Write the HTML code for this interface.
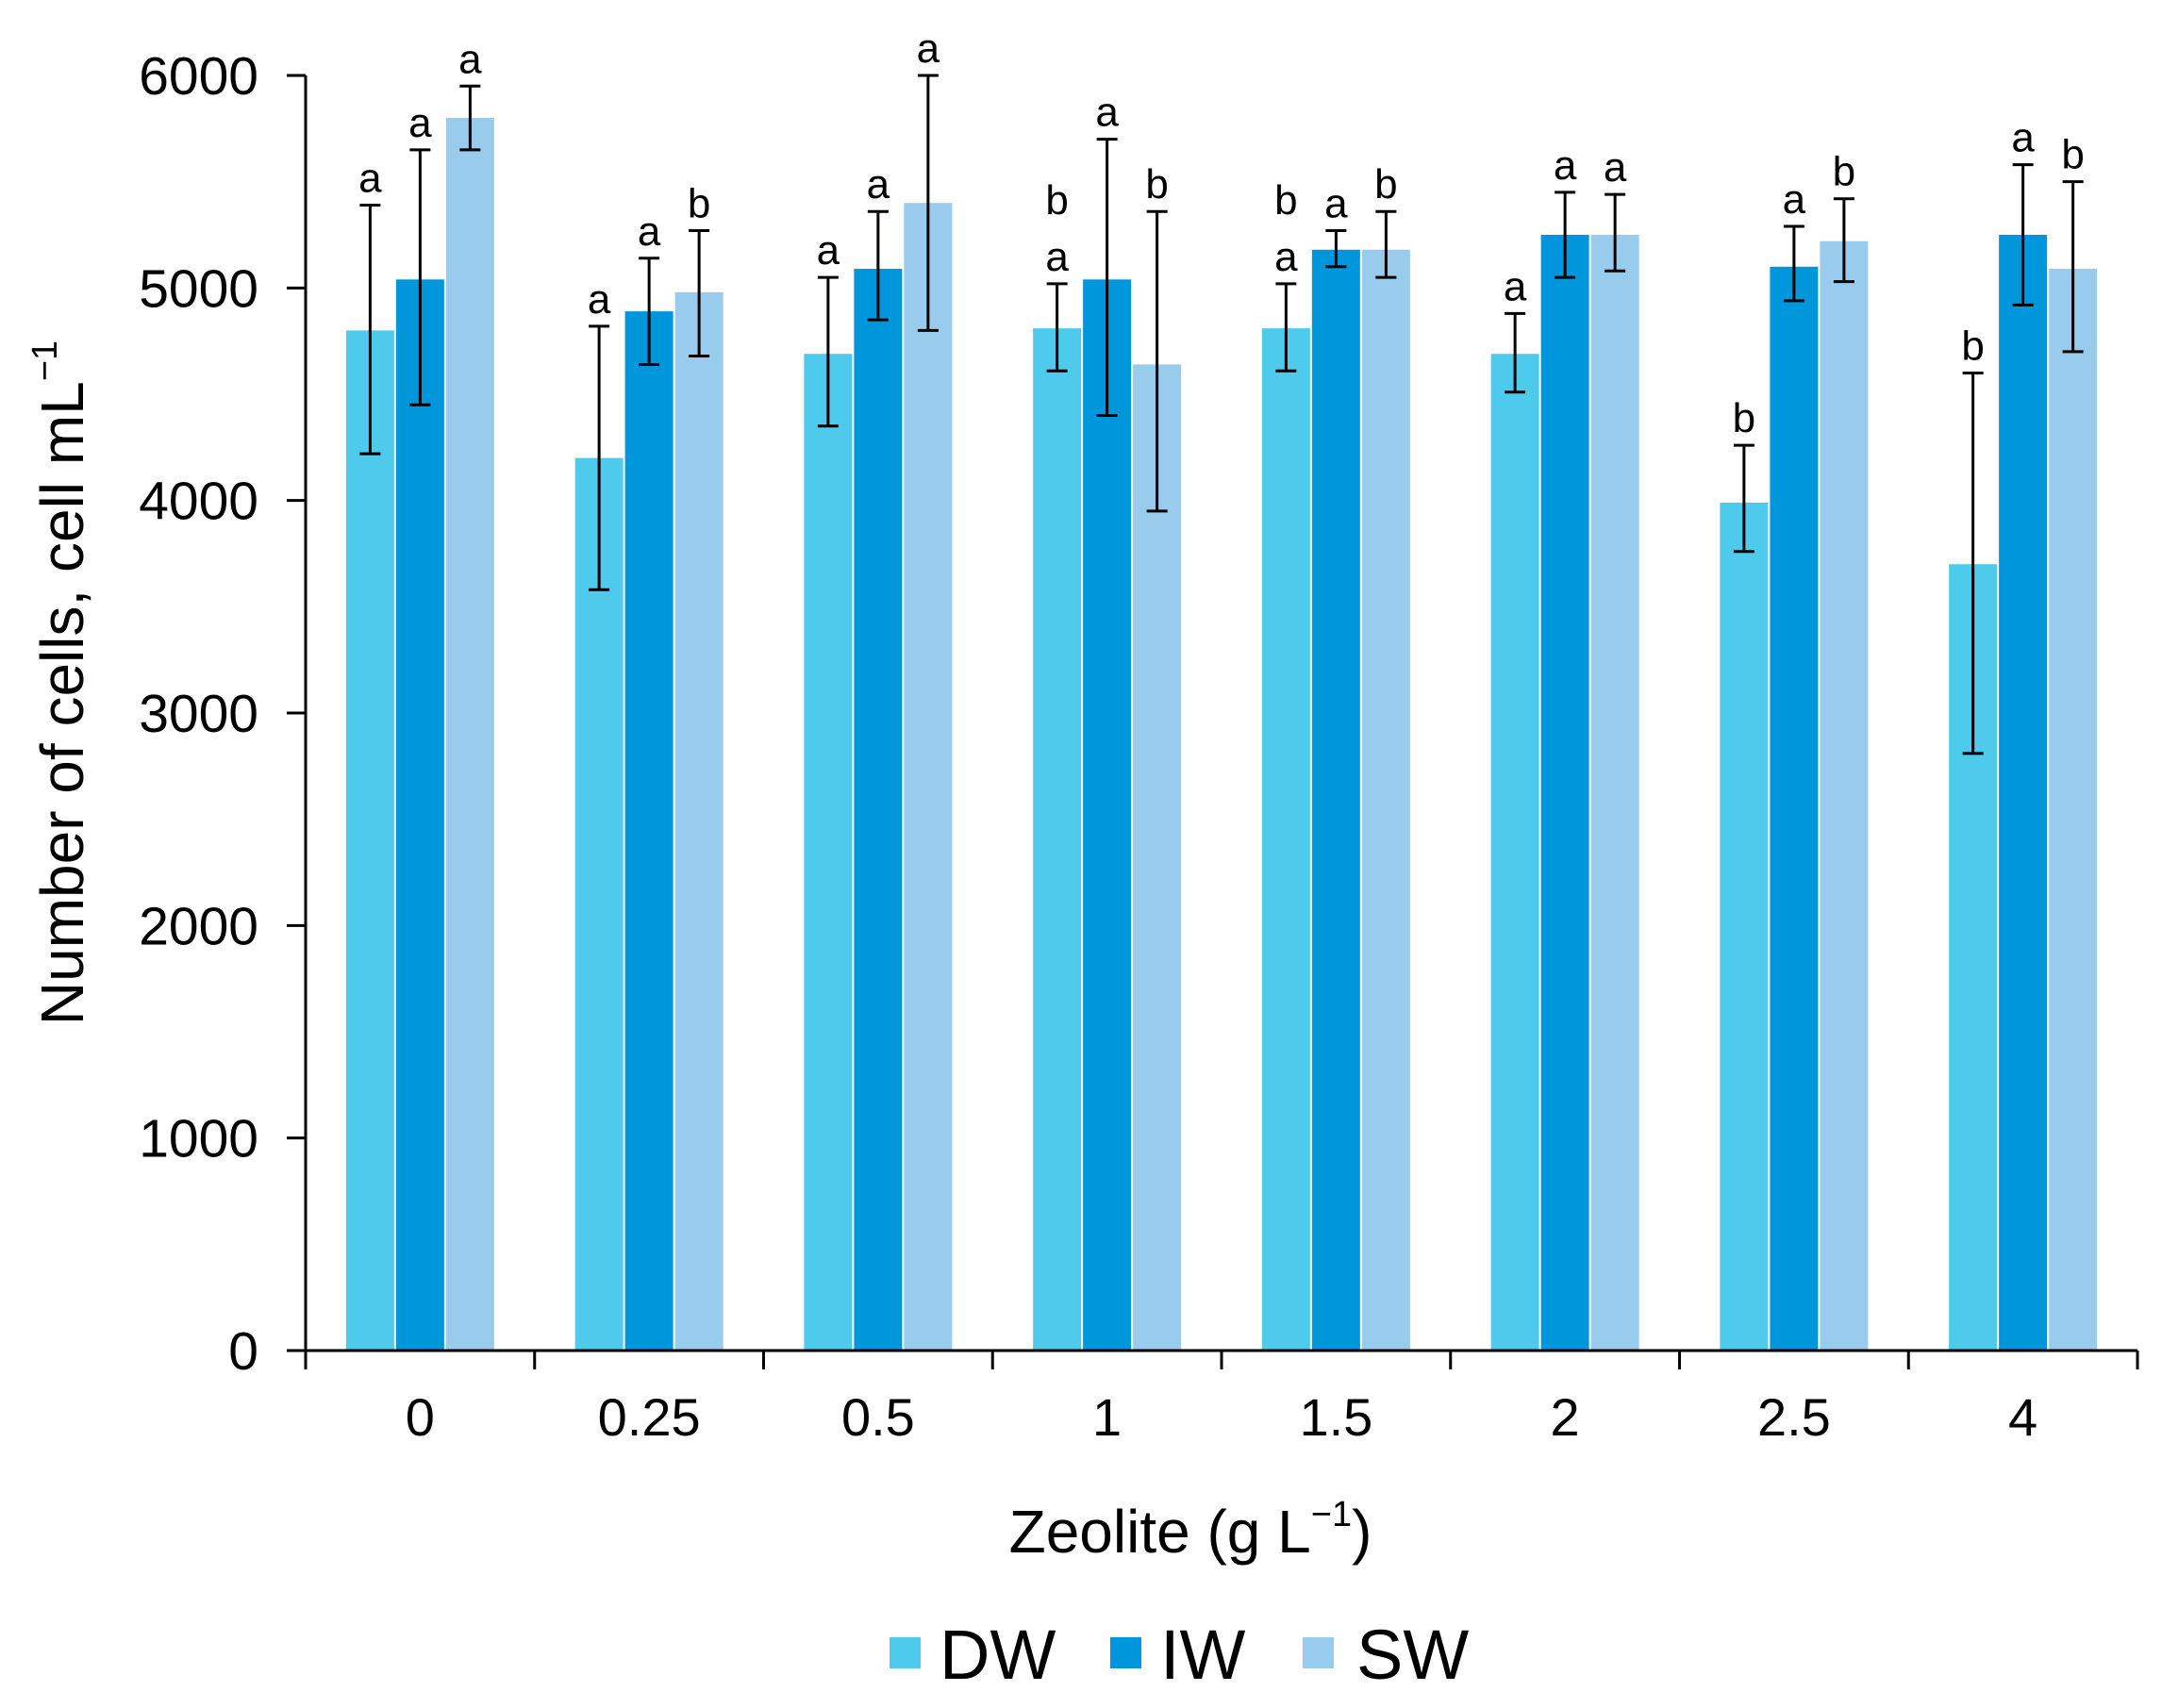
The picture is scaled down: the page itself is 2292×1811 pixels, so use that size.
<!DOCTYPE html>
<html><head><meta charset="utf-8">
<style>
html,body{margin:0;padding:0;background:#fff;}
svg{display:block;font-family:"Liberation Sans",Arial,sans-serif;}
</style></head>
<body>
<svg id="chart" width="2292" height="1811" viewBox="0 0 2292 1811">
<g id="plot"></g>
</svg>
<script>
const categories = ["0","0.25","0.5","1","1.5","2","2.5","4"];
const seriesNames = ["DW","IW","SW"];
const dwValues = [4800,4200,4690,4810,4810,4690,3990,3700];
const iwValues = [5040,4890,5090,5040,5180,5250,5100,5250];
const swValues = [5800,4980,5400,4640,5180,5250,5220,5090];
const dwErrLow = [4220,3580,4350,4610,4610,4510,3760,2810];
const dwErrHigh = [5390,4820,5050,5020,5020,4880,4260,4600];
const iwErrLow = [4450,4640,4850,4400,5100,5050,4940,4920];
const iwErrHigh = [5650,5140,5360,5700,5270,5450,5290,5580];
const swErrLow = [5650,4680,4800,3950,5050,5080,5030,4700];
const swErrHigh = [5950,5270,6000,5360,5360,5440,5420,5500];
const dwLetters = ["a","a","a","b|a","b|a","a","b","b"];
const iwLetters = ["a","a","a","a","a","a","a","a"];
const swLetters = ["a","b","a","b","b","a","b","b"];
const yTicks = [0,1000,2000,3000,4000,5000,6000];

const colors = ["#4ECBEC","#0096DB","#99CBED"];
const NS = "http://www.w3.org/2000/svg";
const plot = document.getElementById("plot");
const x0 = 324, xEnd = 2266, yZero = 1432, yTop = 80, yMax = 6000;
const catW = (xEnd - x0) / categories.length;
const barW = 51, barGap = 2;
function yScale(v){ return yZero - (v / yMax) * (yZero - yTop); }
function xCenter(i){ return x0 + catW * (i + 0.5); }
function mk(tag, attrs, parent){
  const e = document.createElementNS(NS, tag);
  for (const k in attrs) e.setAttribute(k, attrs[k]);
  (parent || plot).appendChild(e);
  return e;
}
const vals = [dwValues, iwValues, swValues];
const lows = [dwErrLow, iwErrLow, swErrLow];
const highs = [dwErrHigh, iwErrHigh, swErrHigh];
const letters = [dwLetters, iwLetters, swLetters];

categories.forEach((c, i) => {
  for (let s = 0; s < 3; s++) {
    const bx = xCenter(i) + (s - 1) * (barW + barGap) - barW / 2;
    const y = yScale(vals[s][i]);
    const r = mk("rect", {x: bx, y: y, width: barW, height: yZero - y, fill: colors[s]});
    
    
  }
});
categories.forEach((c, i) => {
  for (let s = 0; s < 3; s++) {
    const cx = xCenter(i) + (s - 1) * (barW + barGap);
    const yl = yScale(lows[s][i]), yh = yScale(highs[s][i]);
    const g = mk("g", {stroke: "#000", "stroke-width": 3});
    
    
    mk("line", {x1: cx, x2: cx, y1: yl, y2: yh}, g);
    mk("line", {x1: cx - 11, x2: cx + 11, y1: yl, y2: yl}, g);
    mk("line", {x1: cx - 11, x2: cx + 11, y1: yh, y2: yh}, g);
    const parts = letters[s][i].split("|").reverse();
    parts.forEach((L, k) => {
      const t = mk("text", {x: cx, y: yh - 14 - k * 60, "text-anchor": "middle", "font-size": 44, fill: "#000"});
      t.textContent = L;
      
      
    });
  }
});
const yAxis = mk("line", {x1: x0, x2: x0, y1: yTop, y2: yZero, stroke: "#000", "stroke-width": 3});


const xAxis = mk("line", {x1: x0 - 20, x2: xEnd, y1: yZero, y2: yZero, stroke: "#000", "stroke-width": 3});


yTicks.forEach(v => {
  const y = yScale(v);
  mk("line", {x1: x0 - 20, x2: x0, y1: y, y2: y, stroke: "#000", "stroke-width": 3});
  const t = mk("text", {x: 274, y: y + 20, "text-anchor": "end", "font-size": 57, fill: "#000"});
  t.textContent = v;
  
  
});
for (let i = 0; i <= categories.length; i++) {
  const x = x0 + catW * i;
  mk("line", {x1: x, x2: x, y1: yZero, y2: yZero + 20, stroke: "#000", "stroke-width": 3});
}
categories.forEach((c, i) => {
  const t = mk("text", {x: xCenter(i), y: 1522, "text-anchor": "middle", "font-size": 56, fill: "#000"});
  t.textContent = c;
  
  
});
</script>
<div style="position:absolute;left:0;top:0;width:2292px;height:1811px;pointer-events:none">
<svg width="2292" height="1811" style="position:absolute;left:0;top:0">
<text transform="translate(88,724) rotate(-90)" text-anchor="middle" font-size="64" font-family="Liberation Sans, Arial, sans-serif">Number of cells, cell mL<tspan font-size="38" dy="-28">−1</tspan></text>
<text x="1262" y="1646" text-anchor="middle" font-size="64" font-family="Liberation Sans, Arial, sans-serif">Zeolite (g L<tspan font-size="38" dy="-28">−1</tspan><tspan dy="28">)</tspan></text>
<g font-family="Liberation Sans, Arial, sans-serif" font-size="74">
<rect x="943" y="1736" width="33" height="33" fill="#4ECBEC"/>
<text x="996" y="1780">DW</text>
<rect x="1177" y="1736" width="33" height="33" fill="#0096DB"/>
<text x="1230" y="1780">IW</text>
<rect x="1381" y="1736" width="33" height="33" fill="#99CBED"/>
<text x="1438" y="1780">SW</text>
</g>
</svg>
</div>
</body></html>
